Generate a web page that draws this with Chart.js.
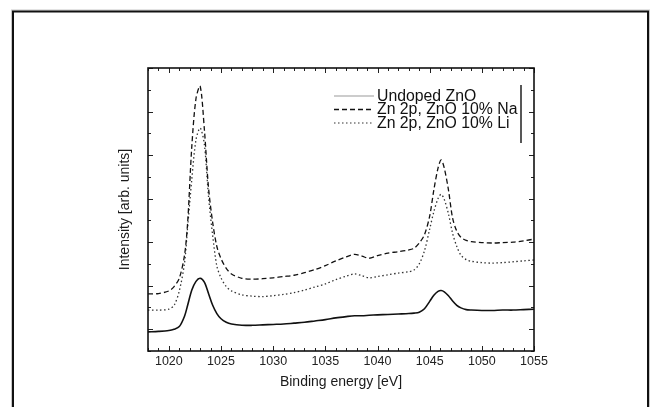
<!DOCTYPE html>
<html>
<head>
<meta charset="utf-8">
<script src="https://cdn.jsdelivr.net/npm/chart.js@4.4.0/dist/chart.umd.min.js"></script>
<style>
  html, body { margin: 0; padding: 0; background: #fff; }
  #wrap { width: 654px; height: 407px; }
</style>
</head>
<body>
<div id="wrap"><canvas id="xps"></canvas></div>
<script>
// binding energy grid (eV), denser around the two Zn 2p peaks
const energy = [1018, 1019, 1020, 1020.5, 1021, 1021.5, 1021.8, 1022.2, 1022.6, 1023,
  1023.4, 1023.8, 1024.2, 1024.6, 1025, 1025.5, 1026, 1027, 1028, 1029,
  1030, 1031, 1032, 1033, 1034, 1035, 1036, 1037, 1037.8, 1038.5,
  1039.2, 1040, 1041, 1042, 1043, 1043.5, 1044, 1044.5, 1045, 1045.4,
  1045.8, 1046.1, 1046.4, 1046.8, 1047.2, 1047.6, 1048, 1048.5, 1049, 1050,
  1051, 1052, 1053, 1054, 1055];

const undoped = [-0.06, -0.05, -0.03, 0.0, 0.06, 0.30, 0.55, 0.90, 1.10, 1.17,
  1.08, 0.82, 0.55, 0.36, 0.24, 0.16, 0.12, 0.09, 0.09, 0.10,
  0.11, 0.12, 0.14, 0.16, 0.19, 0.22, 0.26, 0.29, 0.31, 0.31,
  0.32, 0.33, 0.34, 0.35, 0.36, 0.37, 0.39, 0.47, 0.64, 0.78,
  0.87, 0.89, 0.86, 0.77, 0.65, 0.55, 0.49, 0.45, 0.44, 0.43,
  0.43, 0.44, 0.44, 0.45, 0.46];

const dopedNa = [0.81, 0.82, 0.88, 0.98, 1.17, 1.70, 2.45, 4.20, 5.30, 5.58,
  4.60, 3.25, 2.45, 1.90, 1.62, 1.40, 1.27, 1.17, 1.15, 1.16,
  1.18, 1.21, 1.24, 1.30, 1.37, 1.46, 1.57, 1.66, 1.72, 1.68,
  1.63, 1.69, 1.75, 1.78, 1.82, 1.86, 1.98, 2.17, 2.60, 3.20,
  3.70, 3.89, 3.70, 3.20, 2.55, 2.25, 2.11, 2.04, 2.01, 1.99,
  1.98, 1.99, 2.00, 2.03, 2.07];

const dopedLi = [0.44, 0.44, 0.46, 0.55, 0.88, 1.52, 2.35, 3.45, 4.35, 4.62,
  4.25, 3.05, 2.15, 1.45, 1.18, 0.98, 0.88, 0.79, 0.76, 0.75,
  0.77, 0.80, 0.84, 0.90, 0.97, 1.04, 1.14, 1.22, 1.27, 1.23,
  1.18, 1.21, 1.25, 1.29, 1.32, 1.36, 1.50, 1.80, 2.30, 2.70,
  3.00, 3.10, 2.98, 2.65, 2.20, 1.90, 1.70, 1.60, 1.56, 1.53,
  1.52, 1.53, 1.55, 1.57, 1.59];

const seriesNames = ['Undoped ZnO', 'Zn 2p, ZnO 10% Na', 'Zn 2p, ZnO 10% Li'];
const xTicks = [1020, 1025, 1030, 1035, 1040, 1045, 1050, 1055];
const yTicks = [0, 1, 2, 3, 4, 5, 6];

const FONT = '"Liberation Sans", Arial, sans-serif';

function pts(ys) { return energy.map((x, i) => ({ x: x, y: ys[i] })); }

// inward ticks, plot box, legend box and page frame
const decor = {
  id: 'decor',
  beforeDraw(chart) {
    const c = chart.ctx;
    c.save();
    c.fillStyle = '#fff';
    c.fillRect(0, 0, chart.width, chart.height);
    c.lineWidth = 1;
    c.strokeStyle = '#c8c8c8';
    c.strokeRect(11.5, 10, 638, 420);
    c.lineWidth = 2;
    c.strokeStyle = '#111';
    c.strokeRect(13, 11.5, 635, 420);
    c.restore();
  },
  afterDatasetsDraw(chart) {
    const c = chart.ctx, a = chart.chartArea;
    const xs = chart.scales.x, ys = chart.scales.y;
    c.save();
    c.strokeStyle = '#222';
    c.lineWidth = 1;
    // x ticks, major every 5, minor every 1
    for (let v = 1018; v <= 1055; v++) {
      const px = Math.round(xs.getPixelForValue(v)) + 0.5;
      const len = v % 5 === 0 ? 5 : 3;
      c.beginPath();
      c.moveTo(px, a.bottom); c.lineTo(px, a.bottom - len);
      c.moveTo(px, a.top); c.lineTo(px, a.top + len);
      c.stroke();
    }
    // y ticks, major every 1, minor in between
    for (let v = -0.5; v <= 6; v += 0.5) {
      const py = Math.round(ys.getPixelForValue(v)) + 0.5;
      const len = Number.isInteger(v) ? 5 : 3;
      c.beginPath();
      c.moveTo(a.left, py); c.lineTo(a.left + len, py);
      c.moveTo(a.right, py); c.lineTo(a.right - len, py);
      c.stroke();
    }
    c.lineWidth = 1.6;
    c.strokeStyle = '#111';
    c.strokeRect(a.left, a.top, a.right - a.left, a.bottom - a.top);

    // legend
    const rows = [96, 109.5, 123];
    const styles = [
      { color: '#9a9a9a', dash: [], w: 1.2 },
      { color: '#111', dash: [5, 3], w: 1.3 },
      { color: '#333', dash: [1.5, 2.5], w: 1.2 }
    ];
    c.font = '15.8px ' + FONT;
    c.textBaseline = 'middle';
    c.textAlign = 'left';
    seriesNames.forEach((name, i) => {
      const s = styles[i];
      c.strokeStyle = s.color;
      c.lineWidth = s.w;
      c.setLineDash(s.dash);
      c.beginPath();
      c.moveTo(334, rows[i]); c.lineTo(374, rows[i]);
      c.stroke();
      c.setLineDash([]);
      c.fillStyle = '#111';
      c.fillText(name, 377, rows[i] + 0.5);
    });
    c.strokeStyle = '#111';
    c.lineWidth = 1.4;
    c.beginPath();
    c.moveTo(521, 85); c.lineTo(521, 143);
    c.stroke();
    c.restore();
  }
};

new Chart(document.getElementById('xps'), {
  type: 'scatter',
  data: {
    datasets: [
      { label: seriesNames[0], data: pts(undoped), showLine: true, borderColor: '#111',
        borderWidth: 1.6, pointRadius: 0, tension: 0.3 },
      { label: seriesNames[1], data: pts(dopedNa), showLine: true, borderColor: '#111',
        borderWidth: 1.3, borderDash: [5, 3], pointRadius: 0, tension: 0.3 },
      { label: seriesNames[2], data: pts(dopedLi), showLine: true, borderColor: '#333',
        borderWidth: 1.3, borderDash: [1.5, 2.5], pointRadius: 0, tension: 0.3 }
    ]
  },
  options: {
    responsive: true,
    maintainAspectRatio: false,
    animation: false,
    layout: { padding: { left: 117, right: 120, top: 68, bottom: 16 } },
    plugins: { legend: { display: false }, tooltip: { enabled: false } },
    scales: {
      x: {
        type: 'linear', min: 1018, max: 1055,
        afterBuildTicks: s => { s.ticks = xTicks.map(v => ({ value: v })); },
        afterFit: s => { s.height = 40; },
        grid: { display: false, drawTicks: false },
        border: { display: false },
        ticks: { color: '#222', padding: 3, font: { family: FONT, size: 12.5 },
          maxRotation: 0, callback: v => String(v) },
        title: { display: true, text: 'Binding energy [eV]', color: '#1a1a1a',
          padding: 0, font: { family: FONT, size: 14 } }
      },
      y: {
        type: 'linear', min: -0.5, max: 6,
        afterBuildTicks: s => { s.ticks = yTicks.map(v => ({ value: v })); },
        afterFit: s => { s.width = 31; },
        grid: { display: false, drawTicks: false },
        border: { display: false },
        ticks: { display: false },
        title: { display: true, text: 'Intensity [arb. units]', color: '#1a1a1a',
          padding: 0, font: { family: FONT, size: 14 } }
      }
    }
  },
  plugins: [decor]
});
</script>
</body>
</html>
